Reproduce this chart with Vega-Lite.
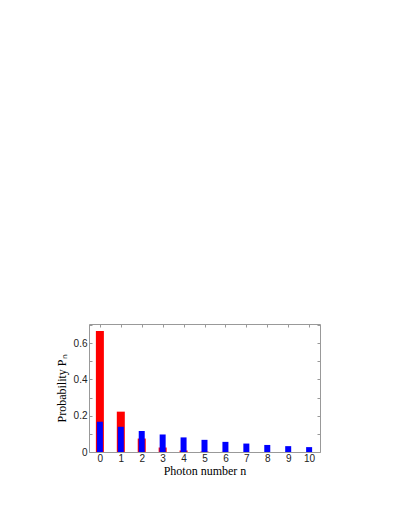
{
  "$schema": "https://vega.github.io/schema/vega-lite/v6.json",
  "autosize": {"type": "none"},
  "width": 231,
  "height": 128,
  "padding": {"left": 89, "top": 324, "right": 89, "bottom": 77},
  "background": "white",
  "config": {"view": {"stroke": null}},
  "data": {"values": [
    {"n": 0, "P": 0.6667, "dist": "mean 0.5"},
    {"n": 1, "P": 0.2222, "dist": "mean 0.5"},
    {"n": 2, "P": 0.0741, "dist": "mean 0.5"},
    {"n": 3, "P": 0.0247, "dist": "mean 0.5"},
    {"n": 4, "P": 0.0082, "dist": "mean 0.5"},
    {"n": 5, "P": 0.0027, "dist": "mean 0.5"},
    {"n": 6, "P": 0.0009, "dist": "mean 0.5"},
    {"n": 0, "P": 0.1667, "dist": "mean 5"},
    {"n": 1, "P": 0.1389, "dist": "mean 5"},
    {"n": 2, "P": 0.1157, "dist": "mean 5"},
    {"n": 3, "P": 0.0965, "dist": "mean 5"},
    {"n": 4, "P": 0.0804, "dist": "mean 5"},
    {"n": 5, "P": 0.0670, "dist": "mean 5"},
    {"n": 6, "P": 0.0558, "dist": "mean 5"},
    {"n": 7, "P": 0.0465, "dist": "mean 5"},
    {"n": 8, "P": 0.0388, "dist": "mean 5"},
    {"n": 9, "P": 0.0323, "dist": "mean 5"},
    {"n": 10, "P": 0.0269, "dist": "mean 5"},
    {"n": 11, "P": 0.0224, "dist": "mean 5"}
  ]},
  "layer": [
    {
      "mark": {"type": "bar", "clip": true},
      "encoding": {
        "x": {"field": "n", "type": "quantitative",
          "scale": {"domain": [-0.52, 10.52], "nice": false, "zero": false, "padding": 0},
          "axis": {"values": [0,1,2,3,4,5,6,7,8,9,10], "title": "Photon number n",
            "titleFont": "Liberation Serif", "titleFontSize": 12, "titleFontWeight": "normal", "titleColor": "black", "titlePadding": 2,
            "labelFont": "Liberation Sans", "labelFontSize": 10, "labelColor": "#222", "labelPadding": 4,
            "domainColor": "#999", "tickColor": "#999", "tickSize": -3, "grid": false, "labelFlush": false}},
        "y": {"field": "P", "type": "quantitative", "stack": null,
          "scale": {"domain": [0, 0.705], "nice": false, "zero": false, "padding": 0},
          "axis": {"values": [0,0.1,0.2,0.3,0.4,0.5,0.6,0.7], "title": "Probability Pₙ",
            "labelExpr": "datum.value == 0 ? '0' : (round(datum.value*10) % 2 == 0 ? format(datum.value, '.1f') : '')",
            "titleFont": "Liberation Serif", "titleFontSize": 12, "titleFontWeight": "normal", "titleColor": "black", "titlePadding": 5,
            "labelFont": "Liberation Sans", "labelFontSize": 10, "labelColor": "#222", "labelPadding": 5,
            "domainColor": "#999", "tickColor": "#999", "tickSize": -3, "grid": false}},
        "color": {"field": "dist", "type": "nominal",
          "scale": {"domain": ["mean 0.5", "mean 5"], "range": ["#ff0000", "#0000ff"]}, "legend": null},
        "size": {"field": "dist", "type": "nominal",
          "scale": {"domain": ["mean 0.5", "mean 5"], "range": [8, 6]}, "legend": null}
      }
    },
    {
      "mark": {"type": "rule", "opacity": 0, "clip": true},
      "encoding": {
        "x": {"field": "n", "type": "quantitative",
          "scale": {"domain": [-0.52, 10.52], "nice": false, "zero": false, "padding": 0},
          "axis": {"orient": "top", "values": [0,1,2,3,4,5,6,7,8,9,10], "labels": false, "title": null,
            "domainColor": "#999", "tickColor": "#999", "tickSize": -3, "grid": false}},
        "y": {"field": "P", "type": "quantitative",
          "scale": {"domain": [0, 0.705], "nice": false, "zero": false, "padding": 0},
          "axis": {"orient": "right", "values": [0,0.1,0.2,0.3,0.4,0.5,0.6,0.7], "labels": false, "title": null,
            "domainColor": "#999", "tickColor": "#999", "tickSize": -3, "grid": false}}
      }
    }
  ],
  "resolve": {"axis": {"x": "independent", "y": "independent"}}
}
